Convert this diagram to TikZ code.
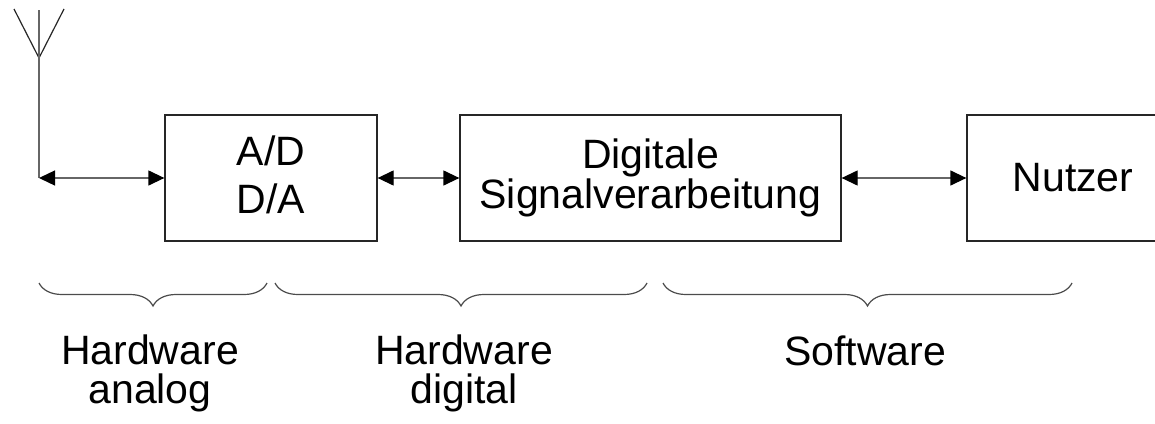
\documentclass[tikz,border=0pt]{standalone}
\usepackage{fontspec}
\setmainfont{Liberation Sans}
\usetikzlibrary{arrows.meta,decorations.pathreplacing}
\begin{document}
\begin{tikzpicture}[x=1pt,y=-1pt,
  box/.style={draw=black!85,line width=1.3pt,minimum width=#1,minimum height=126pt,
    inner sep=0pt,align=center,font=\fontsize{41}{48}\selectfont},
  tip/.tip={Triangle[length=16pt,width=15pt,black]},
  conn/.style={draw=black!60,line width=1.3pt,tip-tip},
  wire/.style={draw=black!60,line width=1.3pt},
  antenna/.style={draw=black!85,line width=1.2pt},
  brace/.style={draw=black!70,line width=1.2pt,decorate,decoration={brace,amplitude=23pt}},
  lbl/.style={align=center,inner sep=0pt,font=\fontsize{41}{39}\selectfont}
]
\clip (0,0) rectangle (1155,423);
% boxes
\node[box=212pt,text depth=7pt] (ad) at (271,178) {A/D\\D/A};
\node[box=381pt,font=\fontsize{41}{38}\selectfont] (dsp) at (650.5,178) {Digitale\\Signalverarbeitung};
\node[box=212pt] (user) at (1073,178) {Nutzer};
% antenna
\coordinate (atop) at (39,10);
\coordinate (afeed) at (39,58);
\coordinate (abot) at (39,178);
\coordinate (al) at (14,9);
\coordinate (ar) at (64,9);
\draw[antenna] (al) -- (afeed) -- (ar);
\draw[wire] (atop) -- (abot);
% connectors
\draw[conn] (abot) -- (ad.west);
\draw[conn] (ad.east) -- (dsp.west);
\draw[conn] (dsp.east) -- (user.west);
% braces
\coordinate (b1l) at (39,283);
\coordinate (b1r) at (267,283);
\coordinate (b2l) at (275,283);
\coordinate (b2r) at (647,283);
\coordinate (b3l) at (663,283);
\coordinate (b3r) at (1072,283);
\draw[brace] (b1r) -- (b1l);
\draw[brace] (b2r) -- (b2l);
\draw[brace] (b3r) -- (b3l);
% labels
\node[lbl,anchor=base] (hwa) at (150,403) {Hardware\\analog};
\node[lbl,anchor=base] (hwd) at (464,403) {Hardware\\digital};
\node[lbl,anchor=base] (sw) at (865,365) {Software};
\end{tikzpicture}
\end{document}
